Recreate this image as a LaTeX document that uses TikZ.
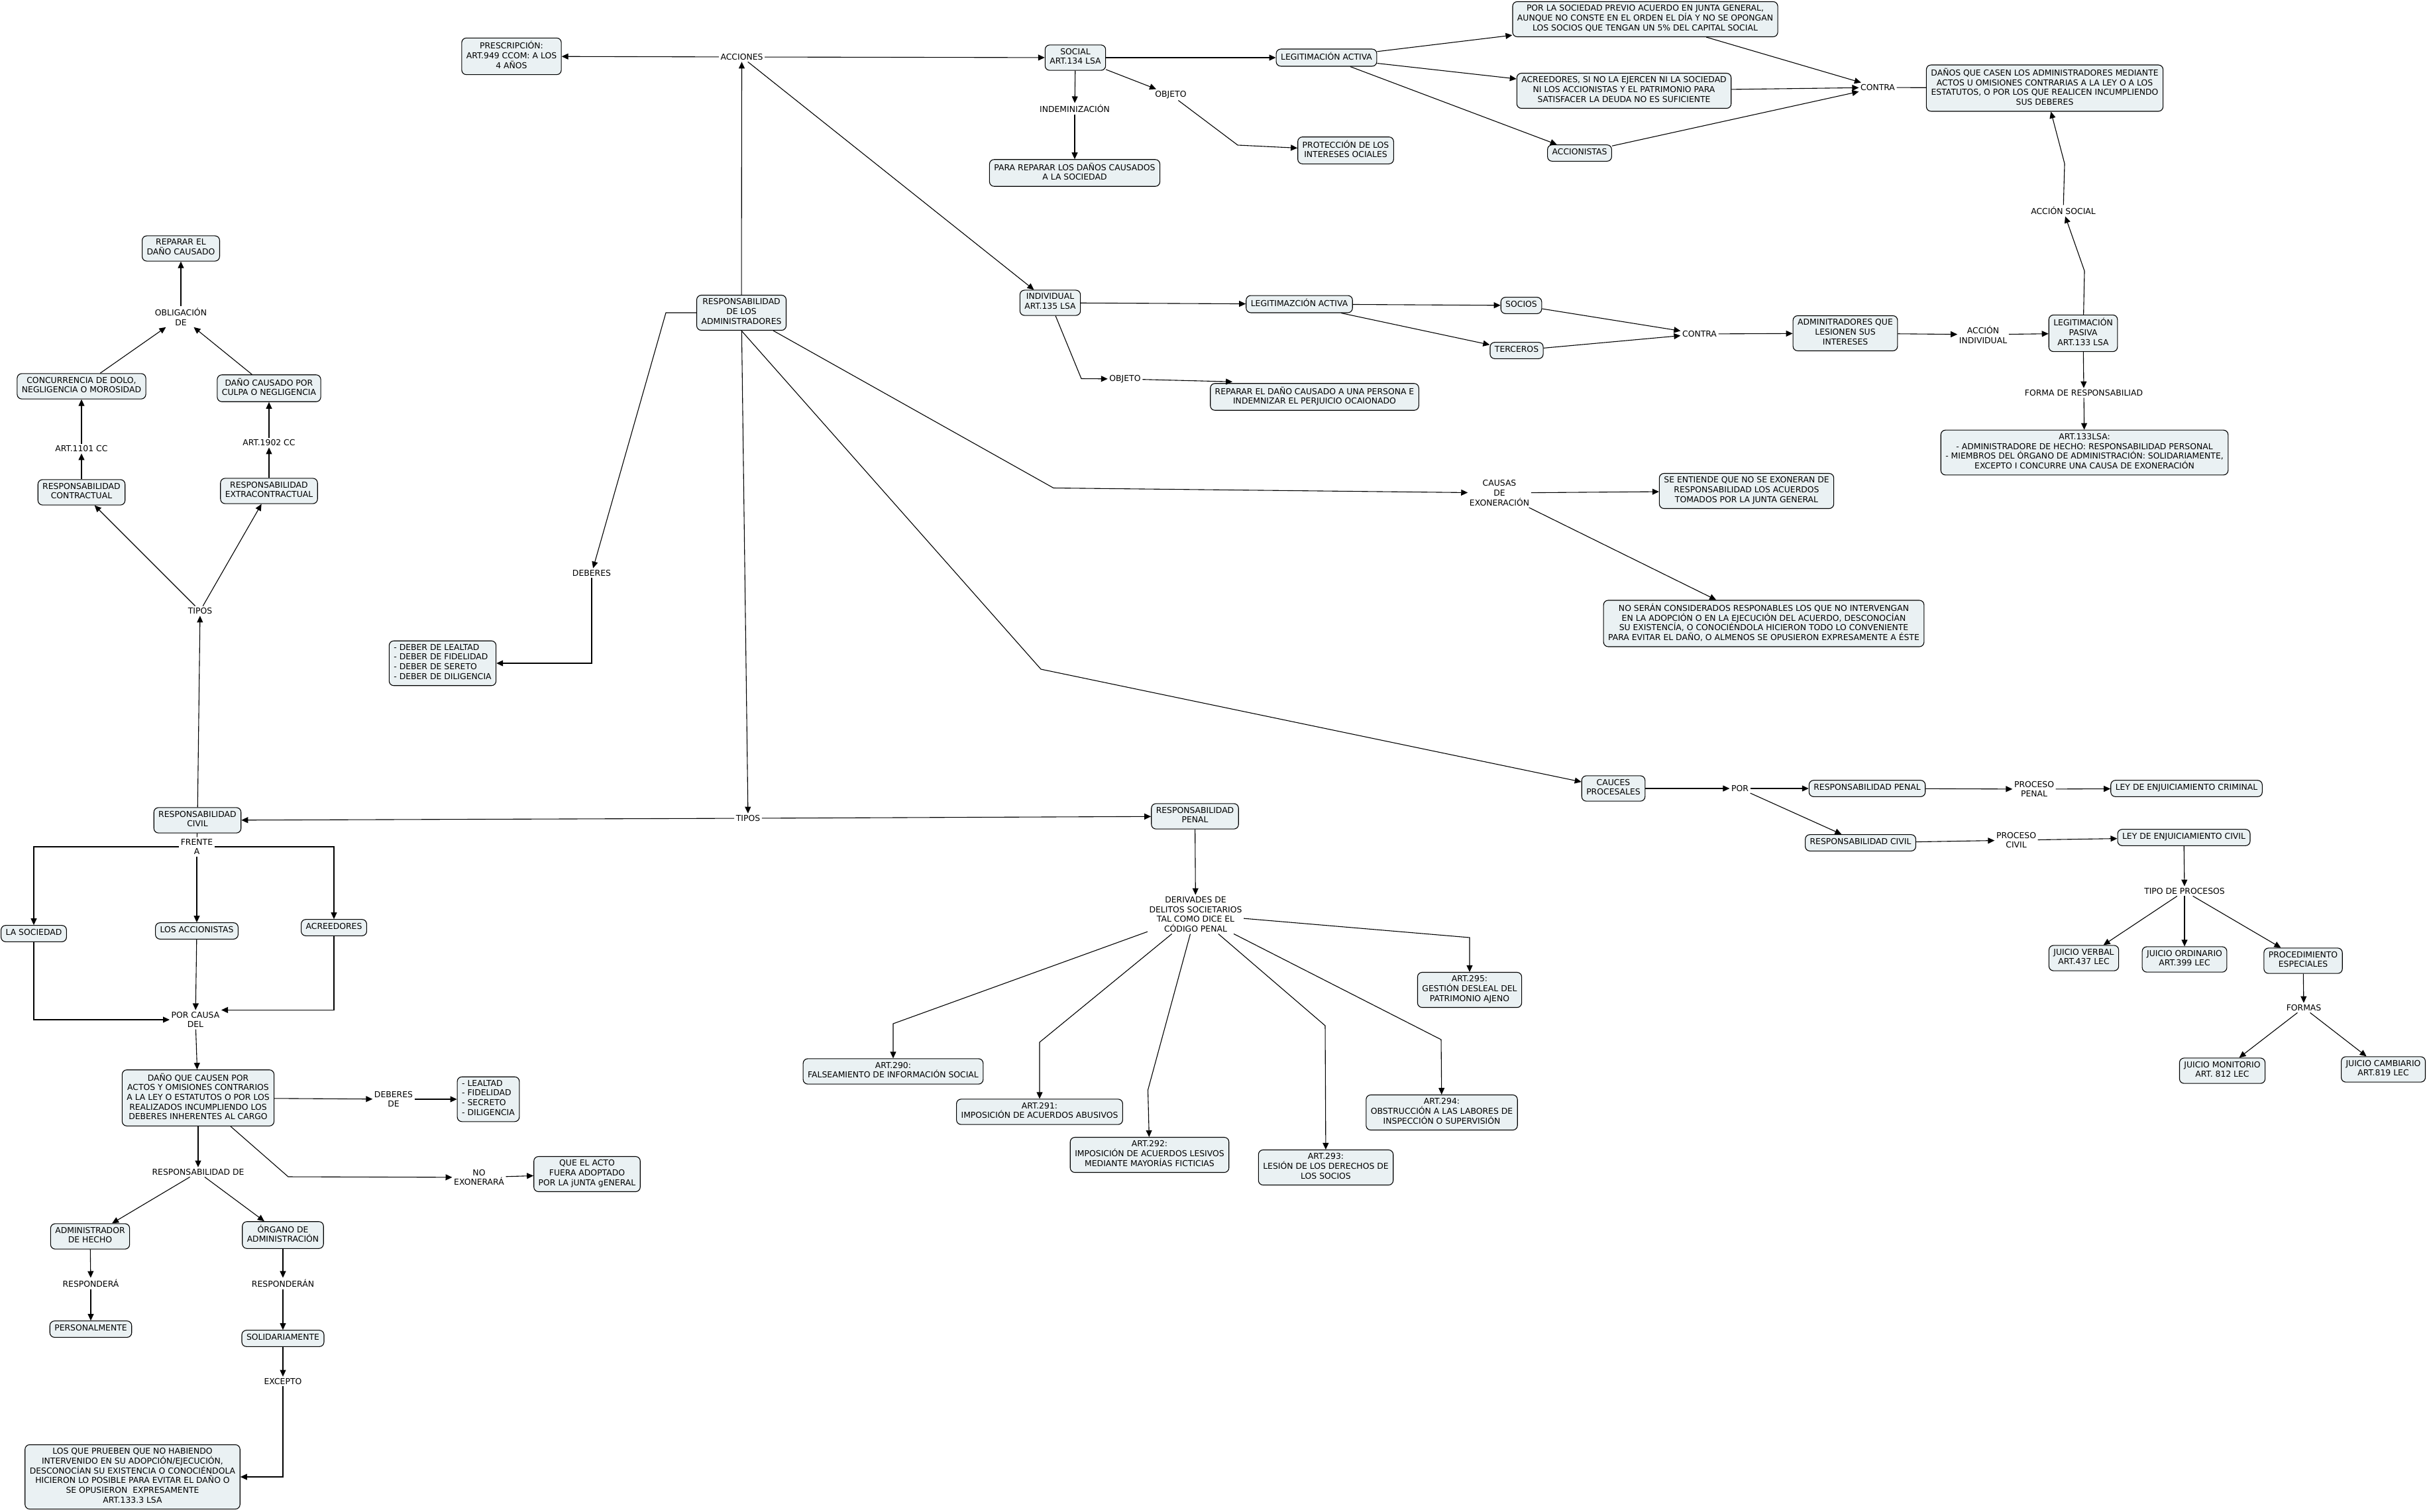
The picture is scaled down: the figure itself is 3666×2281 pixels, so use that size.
\documentclass[tikz,border=0pt]{standalone}
\usepackage{fontspec}
\setmainfont{DejaVu Sans}
\usetikzlibrary{arrows.meta,calc}
\definecolor{boxfill}{RGB}{234,241,243}
\tikzset{
 box/.style={draw, line width=1.1pt, rounded corners=7pt, fill=boxfill, inner xsep=7pt, inner ysep=5pt, align=center, font=\fontsize{12.4}{14.7}\selectfont, execute at begin node=\strut, execute at end node=\strut},
 lbl/.style={inner sep=2.5pt, align=center, font=\fontsize{12.4}{14.7}\selectfont},
 arr/.style={line width=1.1pt, -{Triangle[length=10pt,width=9pt]}},
 ln/.style={line width=1.1pt},
}
\begin{document}
\begin{tikzpicture}[x=1pt,y=-1pt]
\path[use as bounding box, fill=white] (0,0) rectangle (3666,2281);

% ---------------- left column ----------------
\node[box] (repdano) at (273,375) {REPARAR EL\\DAÑO CAUSADO};
\node[lbl] (oblig) at (273,478) {OBLIGACIÓN\\DE};
\node[box] (concur) at (123,583) {CONCURRENCIA DE DOLO,\\NEGLIGENCIA O MOROSIDAD};
\node[box] (danocul) at (406,586) {DAÑO CAUSADO POR\\CULPA O NEGLIGENCIA};
\node[lbl] (art1101) at (123,677) {ART.1101 CC};
\node[lbl] (art1902) at (406,668) {ART.1902 CC};
\node[box] (rcontr) at (123,743) {RESPONSABILIDAD\\CONTRACTUAL};
\node[box] (rextra) at (406,741) {RESPONSABILIDAD\\EXTRACONTRACTUAL};
\node[lbl] (tiposL) at (302,922) {TIPOS};
\node[box] (rcivil) at (298,1238) {RESPONSABILIDAD\\CIVIL};
\node[lbl] (frente) at (297,1278) {FRENTE\\A};
\node[box] (lasoc) at (51,1409) {LA SOCIEDAD};
\node[box] (losacc) at (297,1405) {LOS ACCIONISTAS};
\node[box] (acreedL) at (504,1400) {ACREEDORES};
\node[lbl] (porcausa) at (295,1539) {POR CAUSA\\DEL};
\node[box] (danoque) at (299,1657) {DAÑO QUE CAUSEN POR\\ACTOS Y OMISIONES CONTRARIOS\\A LA LEY O ESTATUTOS O POR LOS\\REALIZADOS INCUMPLIENDO LOS\\DEBERES INHERENTES AL CARGO};
\node[lbl] (deberesde) at (594,1659) {DEBERES\\DE};
\node[box, align=left] (lealtad) at (737,1659) {- LEALTAD\\- FIDELIDAD\\- SECRETO\\- DILIGENCIA};
\node[lbl] (respde) at (299,1769) {RESPONSABILIDAD DE};
\node[lbl] (noexon) at (723,1777) {NO\\EXONERARÁ};
\node[box] (queacto) at (886,1772) {QUE EL ACTO\\FUERA ADOPTADO\\POR LA jUNTA gENERAL};
\node[box] (admhecho) at (136,1866) {ADMINISTRADOR\\DE HECHO};
\node[box] (organo) at (427,1864) {ÓRGANO DE\\ADMINISTRACIÓN};
\node[lbl] (respondera) at (137,1937) {RESPONDERÁ};
\node[lbl] (responderan) at (427,1937) {RESPONDERÁN};
\node[box] (personal) at (137,2006) {PERSONALMENTE};
\node[box] (solid) at (427,2020) {SOLIDARIAMENTE};
\node[lbl] (excepto) at (427,2085) {EXCEPTO};
\node[box] (losque) at (200,2229) {LOS QUE PRUEBEN QUE NO HABIENDO\\INTERVENIDO EN SU ADOPCIÓN/EJECUCIÓN,\\DESCONOCÍAN SU EXISTENCIA O CONOCIÉNDOLA\\HICIERON LO POSIBLE PARA EVITAR EL DAÑO O\\SE OPUSIERON \ EXPRESAMENTE\\ART.133.3 LSA};

% ---------------- middle ----------------
\node[box] (prescr) at (772,85) {PRESCRIPCIÓN:\\ART.949 CCOM: A LOS\\4 AÑOS};
\node[lbl] (acciones) at (1119.5,86) {ACCIONES};
\node[box] (respadmin) at (1119,472) {RESPONSABILIDAD\\DE LOS\\ADMINISTRADORES};
\node[lbl] (deberes) at (893,865) {DEBERES};
\node[box, align=left] (deberbox) at (668,1001) {- DEBER DE LEALTAD\\- DEBER DE FIDELIDAD\\- DEBER DE SERETO\\- DEBER DE DILIGENCIA};
\node[lbl] (tiposM) at (1129,1235) {TIPOS};

\node[box] (social) at (1623,87) {SOCIAL\\ART.134 LSA};
\node[lbl] (indemn) at (1622,164) {INDEMINIZACIÓN};
\node[box] (parareparar) at (1622,261) {PARA REPARAR LOS DAÑOS CAUSADOS\\A LA SOCIEDAD};
\node[lbl] (objeto1) at (1767,143) {OBJETO};
\node[box] (proteccion) at (2031,227) {PROTECCIÓN DE LOS\\INTERESES OCIALES};
\node[box] (legact) at (2002,87) {LEGITIMACIÓN ACTIVA};
\node[box] (porsoc) at (2483,29) {POR LA SOCIEDAD PREVIO ACUERDO EN JUNTA GENERAL,\\AUNQUE NO CONSTE EN EL ORDEN EL DÍA Y NO SE OPONGAN\\LOS SOCIOS QUE TENGAN UN 5\% DEL CAPITAL SOCIAL};
\node[box] (acreedR) at (2451,137) {ACREEDORES, SI NO LA EJERCEN NI LA SOCIEDAD\\NI LOS ACCIONISTAS Y EL PATRIMONIO PARA\\SATISFACER LA DEUDA NO ES SUFICIENTE};
\node[box] (accionistasR) at (2384,231) {ACCIONISTAS};
\node[lbl] (contra1) at (2834,132) {CONTRA};
\node[box] (danoscasen) at (3086,133) {DAÑOS QUE CASEN LOS ADMINISTRADORES MEDIANTE\\ACTOS U OMISIONES CONTRARIAS A LA LEY O A LOS\\ESTATUTOS, O POR LOS QUE REALICEN INCUMPLIENDO\\SUS DEBERES};
\node[lbl] (accsocial) at (3114,318) {ACCIÓN SOCIAL};

\node[box] (individual) at (1585,457) {INDIVIDUAL\\ART.135 LSA};
\node[box] (legitimaz) at (1961,459) {LEGITIMAZCIÓN ACTIVA};
\node[box] (socios) at (2296,461) {SOCIOS};
\node[box] (terceros) at (2289,529) {TERCEROS};
\node[lbl] (contra2) at (2565,504) {CONTRA};
\node[box] (adminitr) at (2785,503) {ADMINITRADORES QUE\\LESIONEN SUS\\INTERESES};
\node[lbl] (accind) at (2993,505) {ACCIÓN\\INDIVIDUAL};
\node[box] (legpas) at (3144,503) {LEGITIMACIÓN\\PASIVA\\ART.133 LSA};
\node[lbl] (forma) at (3145,593) {FORMA DE RESPONSABILIAD};
\node[box] (art133) at (3146,683) {ART.133LSA:\\- ADMINISTRADORE DE HECHO: RESPONSABILIDAD PERSONAL\\- MIEMBROS DEL ÓRGANO DE ADMINISTRACIÓN: SOLIDARIAMENTE,\\EXCEPTO I CONCURRE UNA CAUSA DE EXONERACIÓN};
\node[lbl] (objeto2) at (1698,572) {OBJETO};
\node[box] (repdano2) at (1984,599) {REPARAR EL DAÑO CAUSADO A UNA PERSONA E\\INDEMNIZAR EL PERJUICIO OCAIONADO};

\node[lbl] (causas) at (2263,744) {CAUSAS\\DE\\EXONERACIÓN};
\node[box] (seentiende) at (2636,741) {SE ENTIENDE QUE NO SE EXONERAN DE\\RESPONSABILIDAD LOS ACUERDOS\\TOMADOS POR LA JUNTA GENERAL};
\node[box] (noseran) at (2662,941) {NO SERÁN CONSIDERADOS RESPONABLES LOS QUE NO INTERVENGAN\\EN LA ADOPCIÓN O EN LA EJECUCIÓN DEL ACUERDO, DESCONOCÍAN\\SU EXISTENCÍA, O CONOCIÉNDOLA HICIERON TODO LO CONVENIENTE\\PARA EVITAR EL DAÑO, O ALMENOS SE OPUSIERON EXPRESAMENTE A ÉSTE};

\node[box] (cauces) at (2435,1190) {CAUCES\\PROCESALES};
\node[lbl] (por) at (2626,1190) {POR};
\node[box] (rpenalR) at (2818,1190) {RESPONSABILIDAD PENAL};
\node[lbl] (procpenal) at (3070,1191) {PROCESO\\PENAL};
\node[box] (leycrim) at (3300,1190) {LEY DE ENJUICIAMIENTO CRIMINAL};
\node[box] (rcivilR) at (2808,1272) {RESPONSABILIDAD CIVIL};
\node[lbl] (proccivil) at (3043,1268) {PROCESO\\CIVIL};
\node[box] (leycivil) at (3296,1264) {LEY DE ENJUICIAMIENTO CIVIL};
\node[lbl] (tipoproc) at (3297,1345) {TIPO DE PROCESOS};
\node[box] (jverbal) at (3145,1446) {JUICIO VERBAL\\ART.437 LEC};
\node[box] (jordin) at (3297,1448) {JUICIO ORDINARIO\\ART.399 LEC};
\node[box] (procesp) at (3476,1450) {PROCEDIMIENTO\\ESPECIALES};
\node[lbl] (formas) at (3477,1521) {FORMAS};
\node[box] (jmonit) at (3354,1616) {JUICIO MONITORIO\\ART. 812 LEC};
\node[box] (jcamb) at (3597,1614) {JUICIO CAMBIARIO\\ART.819 LEC};

\node[box] (rpenalM) at (1803.5,1232) {RESPONSABILIDAD\\PENAL};
\node[lbl] (derivades) at (1804.5,1380) {DERIVADES DE\\DELITOS SOCIETARIOS\\TAL COMO DICE EL\\CÓDIGO PENAL};
\node[box] (a290) at (1348,1617) {ART.290:\\FALSEAMIENTO DE INFORMACIÓN SOCIAL};
\node[box] (a291) at (1569,1678) {ART.291:\\IMPOSICIÓN DE ACUERDOS ABUSIVOS};
\node[box] (a292) at (1735,1743) {ART.292:\\IMPOSICIÓN DE ACUERDOS LESIVOS\\MEDIANTE MAYORÍAS FICTICIAS};
\node[box] (a293) at (2001,1762) {ART.293:\\LESIÓN DE LOS DERECHOS DE\\LOS SOCIOS};
\node[box] (a294) at (2176,1679) {ART.294:\\OBSTRUCCIÓN A LAS LABORES DE\\INSPECCIÓN O SUPERVISIÓN};
\node[box] (a295) at (2218,1494) {ART.295:\\GESTIÓN DESLEAL DEL\\PATRIMONIO AJENO};

% waypoints
\coordinate (nx) at (435,1776);
\coordinate (d1) at (1005,472);
\coordinate (c1) at (1590,736.5);
\coordinate (k1) at (1571,1010);
\coordinate (o1) at (1868,219);
\coordinate (i1) at (1632,571.5);
\coordinate (p1) at (3146,409);
\coordinate (p2) at (3116,247);
\coordinate (e0) at (1348,1545);
\coordinate (e1) at (1569,1573);
\coordinate (e2) at (1732.5,1645);
\coordinate (e3) at (2000,1548);
\coordinate (e4) at (2175,1569);
\coordinate (e5) at (2218,1415);

% ---------------- connectors: left ----------------
\draw[arr] (oblig) -- (repdano);
\draw[arr] (concur) -- (oblig);
\draw[arr] (danocul) -- (oblig);
\draw[arr] (art1101) -- (concur);
\draw[arr] (rcontr) -- (art1101);
\draw[arr] (art1902) -- (danocul);
\draw[arr] (rextra) -- (art1902);
\draw[arr] (tiposL) -- (rcontr);
\draw[arr] (tiposL) -- (rextra);
\draw[arr] (rcivil) -- (tiposL);
\draw[arr] (tiposM) -- (rcivil);
\draw[ln] (rcivil) -- (frente);
\draw[arr] (frente.west) -| (lasoc);
\draw[arr] (frente) -- (losacc);
\draw[arr] (frente.east) -| (acreedL);
\draw[arr] (lasoc) |- (porcausa);
\draw[arr] (losacc) -- (porcausa);
\draw[arr] (acreedL) |- (porcausa.north east);
\draw[arr] (porcausa) -- (danoque);
\draw[arr] (danoque) -- (deberesde);
\draw[arr] (deberesde) -- (lealtad);
\draw[arr] (danoque) -- (respde);
\draw[arr] (danoque) -- (nx) -- (noexon);
\draw[arr] (noexon) -- (queacto);
\draw[arr] (respde) -- (admhecho);
\draw[arr] (respde) -- (organo);
\draw[arr] (admhecho) -- (respondera);
\draw[arr] (respondera) -- (personal);
\draw[arr] (organo) -- (responderan);
\draw[arr] (responderan) -- (solid);
\draw[arr] (solid) -- (excepto);
\draw[arr] (excepto) |- (losque);

% ---------------- connectors: middle ----------------
\draw[arr] (respadmin) -- (acciones);
\draw[arr] (acciones) -- (prescr);
\draw[arr] (acciones) -- (social);
\draw[arr] (acciones) -- (individual);
\draw[arr] (respadmin.west) -- (d1) -- (deberes);
\draw[arr] (deberes) |- (deberbox);
\draw[arr] (respadmin) -- (tiposM);
\draw[arr] (respadmin) -- (c1) -- (causas);
\draw[arr] (respadmin.south) -- (k1) -- (cauces);

\draw[arr] (social) -- (indemn);
\draw[arr] (indemn) -- (parareparar);
\draw[arr] (social) -- (objeto1);
\draw[arr] (objeto1) -- (o1) -- (proteccion);
\draw[arr] (social) -- (legact);
\draw[arr] (legact) -- (porsoc);
\draw[arr] (legact) -- (acreedR);
\draw[arr] (legact) -- (accionistasR);
\draw[arr] (porsoc) -- (contra1);
\draw[arr] (acreedR) -- (contra1);
\draw[arr] (accionistasR) -- (contra1);
\draw[ln] (contra1) -- (danoscasen);
\draw[arr] (legpas) -- (p1) -- (accsocial);
\draw[arr] (accsocial) -- (p2) -- (danoscasen);

\draw[arr] (individual) -- (legitimaz);
\draw[arr] (legitimaz) -- (socios);
\draw[arr] (legitimaz) -- (terceros);
\draw[arr] (socios) -- (contra2);
\draw[arr] (terceros) -- (contra2);
\draw[arr] (contra2) -- (adminitr);
\draw[arr] (adminitr) -- (accind);
\draw[arr] (accind) -- (legpas);
\draw[arr] (legpas) -- (forma);
\draw[arr] (forma) -- (art133);
\draw[arr] (individual) -- (i1) -- (objeto2);
\draw[arr] (objeto2) -- ([xshift=34pt,yshift=2pt]repdano2.north west);

\draw[arr] (causas) -- (seentiende);
\draw[arr] (causas) -- (noseran);

\draw[arr] (cauces) -- (por);
\draw[arr] (por) -- (rpenalR);
\draw[arr] (rpenalR) -- (procpenal);
\draw[arr] (procpenal) -- (leycrim);
\draw[arr] (por) -- (rcivilR);
\draw[arr] (rcivilR) -- (proccivil);
\draw[arr] (proccivil) -- (leycivil);
\draw[arr] (leycivil) -- (tipoproc);
\draw[arr] (tipoproc) -- (jverbal);
\draw[arr] (tipoproc) -- (jordin);
\draw[arr] (tipoproc) -- (procesp);
\draw[arr] (procesp) -- (formas);
\draw[arr] (formas) -- (jmonit);
\draw[arr] (formas) -- (jcamb);

\draw[arr] (tiposM) -- (rpenalM);
\draw[arr] (rpenalM) -- (derivades);
\draw[arr] (derivades) -- (e0) -- (a290);
\draw[arr] (derivades) -- (e1) -- (a291);
\draw[arr] (derivades) -- (e2) -- (a292);
\draw[arr] (derivades) -- (e3) -- (a293);
\draw[arr] (derivades) -- (e4) -- (a294);
\draw[arr] (derivades) -- (e5) -- (a295);
\end{tikzpicture}
\end{document}
